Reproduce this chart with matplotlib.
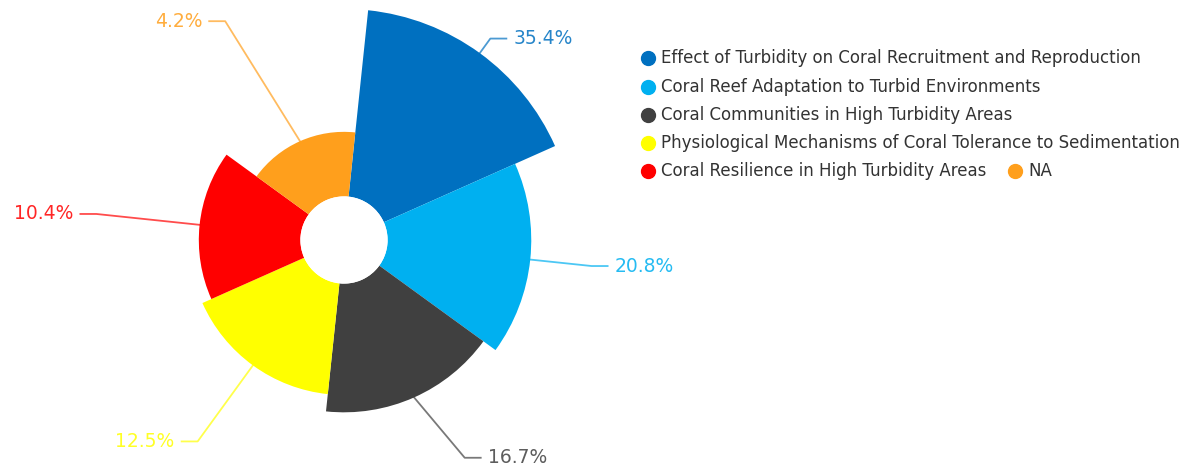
import numpy as np
import matplotlib
matplotlib.use('Agg')
import matplotlib.pyplot as plt
from matplotlib.lines import Line2D

# rose chart data
topics = ["Effect of Turbidity on Coral Recruitment and Reproduction",
          "Coral Reef Adaptation to Turbid Environments",
          "Coral Communities in High Turbidity Areas",
          "Physiological Mechanisms of Coral Tolerance to Sedimentation",
          "Coral Resilience in High Turbidity Areas",
          "NA"]
shares = [35.4, 20.8, 16.7, 12.5, 10.4, 4.2]
colors = ["#0070C0", "#00B0F0", "#404040", "#FFFF00", "#FF0000", "#FF9F1C"]

W, H = 1190, 470
fig = plt.figure(figsize=(W / 100, H / 100), dpi=100)

# polar axes centred at (344, 240) px
cx, cy = 344, 240
rpx = 232.6
ax = fig.add_axes([(cx - rpx) / W, (H - cy - rpx) / H, 2 * rpx / W, 2 * rpx / H],
                  projection='polar')
ax.set_theta_zero_location('N')
ax.set_theta_direction(-1)

n = len(shares)
step = 2 * np.pi / n
offset = np.deg2rad(6)
theta = offset + step * np.arange(n) + step / 2
radii = np.sqrt(shares)
hole = 1.384

ax.bar(theta, radii, width=step, bottom=0, color=colors, linewidth=0)
ax.set_rorigin(-hole)
ax.set_ylim(0, 6.0)
ax.axis('off')

# leader lines and percentage labels (a few elbows nudged to stay on canvas)
elbow_r = 6.52
nudge = np.deg2rad([0, 0, -5, 0, 0, -4.5])
inv = fig.transFigure.inverted()
for t, dt, r, c, v in zip(theta, nudge, radii, colors, shares):
    p0 = ax.transData.transform((t, r))
    p1 = ax.transData.transform((t + dt, elbow_r))
    right = np.sin(t) >= 0
    dx = 16 if right else -16
    p2 = p1 + np.array([dx, 0])
    pts = inv.transform(np.array([p0, p1, p2]))
    fig.add_artist(Line2D(pts[:, 0], pts[:, 1], color=c, lw=1.3, alpha=0.7))
    tx = inv.transform(p2 + np.array([7 if right else -7, 0]))
    fig.text(tx[0], tx[1], f"{v}%", color=c, fontsize=13.5, alpha=0.85,
             ha='left' if right else 'right', va='center')

# legend laid out by hand, last two entries share a row
rows_y = [58, 87, 115, 143, 171]
positions = [(648, rows_y[0]), (648, rows_y[1]), (648, rows_y[2]),
             (648, rows_y[3]), (648, rows_y[4]), (1015, rows_y[4])]
for (x, y), label, c in zip(positions, topics, colors):
    fig.add_artist(Line2D([x / W], [1 - y / H], marker='o', markersize=10,
                          color=c, linestyle='none'))
    fig.text((x + 13) / W, 1 - y / H, label, color="#333333", fontsize=12,
             ha='left', va='center')

fig.savefig("out.png", dpi=100)
